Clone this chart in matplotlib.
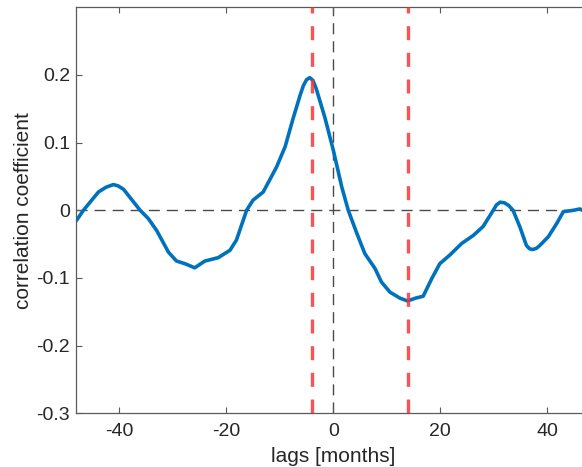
import matplotlib
matplotlib.use("Agg")
import matplotlib.pyplot as plt

# lag (months) and correlation
lags = [-48, -46.7, -43.9, -42.5, -41.1, -40.2, -39.2, -36.1, -34.6, -33.0,
        -30.8, -29.3, -27.7, -25.9, -24.0, -21.5, -19.3, -18.1, -16.2, -15.0,
        -13.1, -10.6, -9.0, -7.5, -6.2, -5.6, -5.0, -4.4, -3.8, -3.2,
        -1.6, 0.0, 1.6, 2.8, 4.4, 5.9, 7.8, 9.0, 10.6, 12.5,
        13.9, 15.3, 16.8, 18.4, 19.9, 21.8, 24.0, 26.2, 28.0, 29.9,
        30.5, 31.2, 32.0, 32.8, 33.6, 34.9, 36.1, 36.7, 37.3, 38.0,
        38.6, 40.2, 41.8, 43.0, 44.9, 46.1, 47.0]
corr = [-0.015, 0.0, 0.027, 0.034, 0.038, 0.036, 0.031, 0.0, -0.012, -0.030,
        -0.062, -0.075, -0.079, -0.085, -0.075, -0.070, -0.059, -0.044, 0.0, 0.015,
        0.027, 0.064, 0.094, 0.136, 0.170, 0.184, 0.193, 0.196, 0.192, 0.180,
        0.138, 0.089, 0.034, 0.0, -0.034, -0.064, -0.086, -0.106, -0.121, -0.130,
        -0.134, -0.130, -0.127, -0.101, -0.079, -0.066, -0.049, -0.037, -0.024, 0.0,
        0.008, 0.012, 0.011, 0.007, 0.0, -0.025, -0.052, -0.057, -0.058, -0.056,
        -0.052, -0.039, -0.019, -0.002, 0.0, 0.002, -0.002]

peak_lags = [-4, 14]
xticks = [-40, -20, 0, 20, 40]
yticks = [-0.3, -0.2, -0.1, 0, 0.1, 0.2]
ytick_labels = ["-0.3", "-0.2", "-0.1", "0", "0.1", "0.2"]

plt.rcParams['font.family'] = ['Liberation Sans', 'DejaVu Sans']
plt.rcParams['axes.unicode_minus'] = False

fig = plt.figure(figsize=(5.82, 4.67), dpi=100)
ax = fig.add_axes([0.1314, 0.115, 0.8825, 0.8694])

ax.axhline(0, color='#4a4a4a', lw=1, dashes=(8, 5), zorder=1)
ax.axvline(0, color='#4a4a4a', lw=1, dashes=(8, 5), zorder=1)
ax.plot(lags, corr, color='#0072BD', lw=2.6, zorder=2,
        solid_joinstyle='round', solid_capstyle='round')
for p in peak_lags:
    ax.axvline(p, color='#ff3333', alpha=0.85, lw=2.4, dashes=(4.2, 3.8), zorder=3)

ax.set_xlim(-48, 48)
ax.set_ylim(-0.3, 0.3)
ax.set_xticks(xticks)
ax.set_yticks(yticks)
ax.set_yticklabels(ytick_labels)

for s in ax.spines.values():
    s.set_color('#5a5a5a')
    s.set_linewidth(0.9)
ax.tick_params(direction='in', length=4.3, width=0.8, color='#5a5a5a',
               labelcolor='#262626', labelsize=14, top=True, right=True)
ax.tick_params(axis='x', pad=6.7)
ax.tick_params(axis='y', pad=4.7)

ax.set_xlabel('lags [months]', fontsize=15, color='#262626')
ax.set_ylabel('correlation coefficient', fontsize=15, color='#262626')
ax.xaxis.set_label_coords(0.5, -0.083)
ax.yaxis.set_label_coords(-0.104, 0.5)
ax.yaxis.label.set_va('center')

fig.savefig('out.png', dpi=100)
